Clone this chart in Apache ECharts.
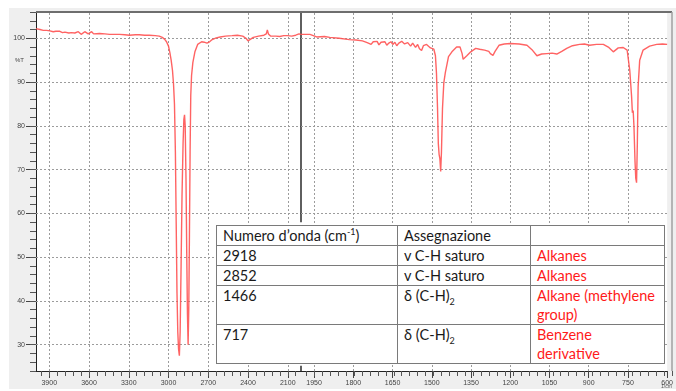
<!DOCTYPE html>
<html>
<head>
<meta charset="utf-8">
<script src="https://cdn.jsdelivr.net/npm/echarts@6/dist/echarts.min.js"></script>
<style>
  html, body { margin: 0; padding: 0; background: #fff; }
  #panel { position: absolute; left: 9px; top: 8px; width: 667px; height: 381px; background: #efefef; }
  #chart { position: absolute; left: 0; top: 0; width: 676px; height: 391px; }
  #bands {
    position: absolute; left: 216px; top: 225px;
    border-collapse: collapse; table-layout: fixed; background: #fff;
    font-family: Lato, "Open Sans", sans-serif; font-size: 14.5px; color: #1a1a1a;
  }
  #bands td {
    border: 1px solid #7a7a7a; padding: 0 6px; vertical-align: top;
    line-height: 19px; white-space: nowrap;
  }
  #bands td.red { color: #ff1a1a; }
  #bands sup, #bands sub { font-size: 9px; line-height: 0; }
</style>
</head>
<body>
<div id="panel"></div>
<div id="chart"></div>
<table id="bands">
  <colgroup><col style="width:181px"><col style="width:133px"><col style="width:134px"></colgroup>
  <tbody id="bandRows"></tbody>
</table>
<script>
// IR spectrum: wavenumber (cm-1) and transmittance (%T)
const wavenumbers = [
  4000, 3990, 3970, 3945, 3920, 3895, 3870, 3850, 3820, 3800, 3782, 3767, 3752, 3745, 3734, 3722,
  3707, 3692, 3681, 3670, 3659, 3647, 3632, 3617, 3606, 3595, 3580, 3565, 3550, 3520, 3480, 3445,
  3400, 3370, 3330, 3295, 3250, 3220, 3180, 3145, 3100, 3070, 3047, 3030, 3015, 3000, 2990, 2980,
  2970, 2962, 2955, 2948, 2942, 2936, 2930, 2924, 2918, 2912, 2905, 2898, 2890, 2884, 2879, 2874,
  2868, 2862, 2857, 2852, 2847, 2842, 2837, 2832, 2826, 2816, 2800, 2780, 2750, 2730, 2710, 2690,
  2670, 2640, 2610, 2570, 2520, 2480, 2440, 2415, 2400, 2385, 2360, 2320, 2280, 2262, 2254, 2246,
  2230, 2215, 2190, 2160, 2130, 2100, 2070, 2040, 2015, 2005, 2000,
  1985, 1966, 1940, 1910, 1890, 1854, 1815, 1790, 1765, 1747, 1740, 1732, 1724, 1717, 1709, 1702,
  1694, 1687, 1679, 1672, 1664, 1656, 1649, 1641, 1634, 1626, 1615, 1604, 1592, 1581, 1573, 1562,
  1554, 1547, 1539, 1532, 1520, 1513, 1505, 1498, 1492, 1486, 1482, 1478, 1475, 1472, 1469, 1466,
  1463, 1459, 1454, 1448, 1436, 1423, 1405, 1392, 1384, 1380, 1376, 1366, 1351, 1332, 1317, 1298,
  1282, 1276, 1266, 1258, 1243, 1223, 1200, 1166, 1136, 1117, 1098, 1080, 1060, 1040, 1022, 1003,
  984, 962, 935, 916, 897, 870, 844, 825, 806, 800, 787, 768, 753, 749, 743, 736, 733, 730, 727,
  723, 720, 717, 714, 711, 705, 692, 667, 640, 618, 600
];
const transmittance = [
  102.2, 102.1, 102.0, 101.8, 101.8, 101.7, 101.5, 101.6, 101.6, 101.3, 101.4, 101.7, 101.2, 100.8, 101.3, 101.7,
  101.2, 101.0, 101.5, 101.3, 100.9, 100.8, 101.5, 101.6, 101.0, 101.2, 101.5, 101.0, 101.3, 101.1, 101.0, 100.9,
  100.9, 100.9, 100.8, 100.7, 100.8, 100.8, 100.7, 100.7, 100.6, 100.5, 100.2, 99.8, 99.2, 98.2, 96.8, 95.0,
  92.7, 89.5, 85.0, 74.0, 58.0, 42.0, 33.0, 29.0, 27.5, 33.0, 48.0, 64.0, 76.0, 81.5, 82.5, 80.0,
  68.0, 50.0, 37.0, 30.0, 38.0, 55.0, 74.0, 87.0, 91.5, 94.5, 97.0, 98.6, 99.2, 99.1, 98.9, 99.2,
  99.7, 100.1, 100.3, 100.5, 100.6, 100.7, 100.5, 100.0, 99.4, 99.8, 100.2, 100.5, 100.7, 101.0, 101.9, 101.0,
  100.5, 100.3, 100.5, 100.4, 100.6, 100.6, 100.5, 100.7, 101.0, 100.7, 100.9,
  100.9, 100.9, 100.3, 100.4, 100.2, 100.0, 99.7, 99.6, 99.4, 99.0, 99.3, 98.6, 99.2, 98.8, 99.3, 98.5,
  99.1, 98.7, 99.2, 98.4, 98.9, 99.2, 98.6, 99.1, 98.3, 98.9, 99.3, 98.7, 99.0, 98.2, 98.9, 97.9,
  98.6, 97.6, 97.2, 98.3, 98.6, 98.4, 97.8, 98.2, 97.5, 96.0, 92.0, 84.0, 76.0, 73.5, 72.5, 69.6,
  74.0, 84.0, 89.8, 92.2, 95.8, 96.9, 98.0, 98.0, 96.5, 95.2, 95.5, 96.0, 96.9, 97.7, 97.5, 97.3,
  97.0, 96.5, 96.1, 97.0, 98.4, 98.7, 98.8, 98.7, 98.4, 97.4, 96.0, 96.4, 96.5, 96.6, 96.4, 97.0,
  97.7, 98.3, 98.6, 98.7, 98.4, 98.6, 98.6, 98.0, 96.9, 97.3, 97.8, 97.9, 97.3, 96.9, 92.7, 86.7, 83.0, 83.5, 80.0,
  72.0, 68.0, 67.0, 76.0, 88.9, 95.0, 97.3, 98.2, 98.6, 98.7, 98.6
];

// Axis tick labels (two scale segments, split at 2000 cm-1)
const highTicks = [3900, 3600, 3300, 3000, 2700, 2400, 2100];
const lowTicks = [1950, 1800, 1650, 1500, 1350, 1200, 1050, 900, 750, 600];
const yTicks = [30, 40, 50, 60, 70, 80, 90, 100];
const highMinor = [];
for (let w = 3960; w > 2000; w -= 60) highMinor.push(w);
const lowMinor = [];
for (let w = 1980; w >= 600; w -= 30) lowMinor.push(w);

// Band assignment table
const bandNumbers = ['2918', '2852', '1466', '717'];
const bandAssign = ['v C-H saturo', 'v C-H saturo', 'δ (C-H)<sub>2</sub>', 'δ (C-H)<sub>2</sub>'];
const bandGroup = [['Alkanes'], ['Alkanes'], ['Alkane (methylene', 'group)'], ['Benzene', 'derivative']];
const rowHeights = [19, 19, 20, 39, 38];

const tbody = document.getElementById('bandRows');
let html = '<tr style="height:' + rowHeights[0] + 'px"><td>Numero d’onda (cm<sup>-1</sup>)</td><td>Assegnazione</td><td></td></tr>';
for (let i = 0; i < bandNumbers.length; i++) {
  html += '<tr style="height:' + rowHeights[i + 1] + 'px"><td>' + bandNumbers[i] + '</td><td>' +
    bandAssign[i] + '</td><td class="red">' + bandGroup[i].join('<br>') + '</td></tr>';
}
tbody.innerHTML = html;

const highPts = [], lowPts = [];
for (let i = 0; i < wavenumbers.length; i++) {
  if (wavenumbers[i] >= 2000) highPts.push([wavenumbers[i], transmittance[i]]);
  if (wavenumbers[i] <= 2000) lowPts.push([wavenumbers[i], transmittance[i]]);
}

const Y_MIN = 24, Y_MAX = 106;
const labelFont = { fontSize: 7, color: '#444', fontFamily: 'Liberation Sans, Arial, sans-serif' };
const gridLine = { type: [2, 2], color: '#9c9c9c', width: 1, opacity: 1 };
const plain = v => String(v);

const rectHigh = { left: 36, top: 12, width: 265, height: 359 };
const rectLow = { left: 301, top: 12, width: 371, height: 359 };

function majorX(grid, min, max, ticks) {
  return {
    type: 'value', gridIndex: grid, min: min, max: max, inverse: true,
    axisLine: { show: true, lineStyle: { color: '#222', width: 1 } },
    axisTick: { show: true, customValues: ticks, length: 7, lineStyle: { color: '#444' } },
    axisLabel: Object.assign({ show: true, customValues: ticks, margin: 9, formatter: plain }, labelFont),
    splitLine: { show: false }
  };
}
function minorX(grid, min, max, ticks) {
  return {
    type: 'value', gridIndex: grid, min: min, max: max, inverse: true,
    axisLine: { show: false },
    axisTick: { show: true, customValues: ticks, length: 5, lineStyle: { color: '#555' } },
    axisLabel: { show: false },
    splitLine: { show: false }
  };
}
// dotted grid lines at every labelled tick, as coordinate pairs of one segment
function gridMarks(xs, xFrom, xTo) {
  const vertical = xs.map(v => [{ coord: [v, Y_MIN], lineStyle: gridLine }, { coord: [v, Y_MAX] }]);
  const horizontal = yTicks.map(v => [{ coord: [xFrom, v], lineStyle: gridLine }, { coord: [xTo, v] }]);
  return vertical.concat(horizontal);
}
const traceStyle = { color: '#ff5252', width: 1.4, opacity: 0.9 };
const breakStyle = { color: '#2a2a2a', type: 'solid', width: 1.5, opacity: 1 };

const chart = echarts.init(document.getElementById('chart'), null, { renderer: 'canvas' });
chart.setOption({
  animation: false,
  grid: [
    Object.assign({ show: true, backgroundColor: '#fff', borderWidth: 0 }, rectHigh),
    Object.assign({ show: true, backgroundColor: '#fff', borderWidth: 0 }, rectLow),
    Object.assign({ show: false }, rectHigh),
    Object.assign({ show: false }, rectLow)
  ],
  xAxis: [
    majorX(0, 2000, 4000, highTicks),
    majorX(1, 600, 2000, lowTicks),
    minorX(2, 2000, 4000, highMinor),
    minorX(3, 600, 2000, lowMinor)
  ],
  yAxis: [
    {
      type: 'value', gridIndex: 0, min: Y_MIN, max: Y_MAX,
      axisLine: { show: true, lineStyle: { color: '#222', width: 1 } },
      axisTick: { show: true, customValues: yTicks, length: 10, lineStyle: { color: '#444' } },
      axisLabel: Object.assign({ show: true, customValues: yTicks, margin: 11, formatter: plain }, labelFont),
      splitLine: { show: false }
    },
    { type: 'value', gridIndex: 1, min: Y_MIN, max: Y_MAX, show: false },
    {
      type: 'value', gridIndex: 2, min: Y_MIN, max: Y_MAX, interval: 2,
      axisLine: { show: false },
      axisTick: { show: true, length: 6, lineStyle: { color: '#555' } },
      axisLabel: { show: false },
      splitLine: { show: false }
    },
    { type: 'value', gridIndex: 3, min: Y_MIN, max: Y_MAX, show: false }
  ],
  series: [
    {
      type: 'line', xAxisIndex: 0, yAxisIndex: 0, data: highPts, z: 3,
      showSymbol: false, smooth: false, clip: true, lineStyle: traceStyle,
      markLine: {
        z: 1, silent: true, symbol: 'none', animation: false, label: { show: false },
        data: gridMarks(highTicks, 4000, 2000).concat([
          [{ coord: [2000, Y_MAX], lineStyle: breakStyle }, { coord: [2000, 58] }],
          [{ coord: [2000, Y_MIN], lineStyle: breakStyle }, { coord: [2000, 25.2] }]
        ])
      }
    },
    {
      type: 'line', xAxisIndex: 1, yAxisIndex: 1, data: lowPts, z: 3,
      showSymbol: false, smooth: false, clip: true, lineStyle: traceStyle,
      markLine: {
        z: 1, silent: true, symbol: 'none', animation: false, label: { show: false },
        data: gridMarks(lowTicks.filter(v => v > 600), 2000, 600)
      }
    }
  ],
  graphic: [
    { type: 'line', z: 10, shape: { x1: 36, y1: 12, x2: 672, y2: 12 }, style: { stroke: '#6e6e6e', lineWidth: 2 } },
    { type: 'line', z: 10, shape: { x1: 672, y1: 12, x2: 672, y2: 371 }, style: { stroke: '#a0a0a0', lineWidth: 1.5 } },
    { type: 'text', left: 15, top: 57, style: { text: '%T', fontSize: 6, fill: '#444', fontFamily: 'Liberation Sans, Arial, sans-serif' } },
    { type: 'text', left: 661, top: 384, style: { text: '1/cm', fontSize: 5, fill: '#555', fontFamily: 'Liberation Sans, Arial, sans-serif' } }
  ]
});
</script>
</body>
</html>
